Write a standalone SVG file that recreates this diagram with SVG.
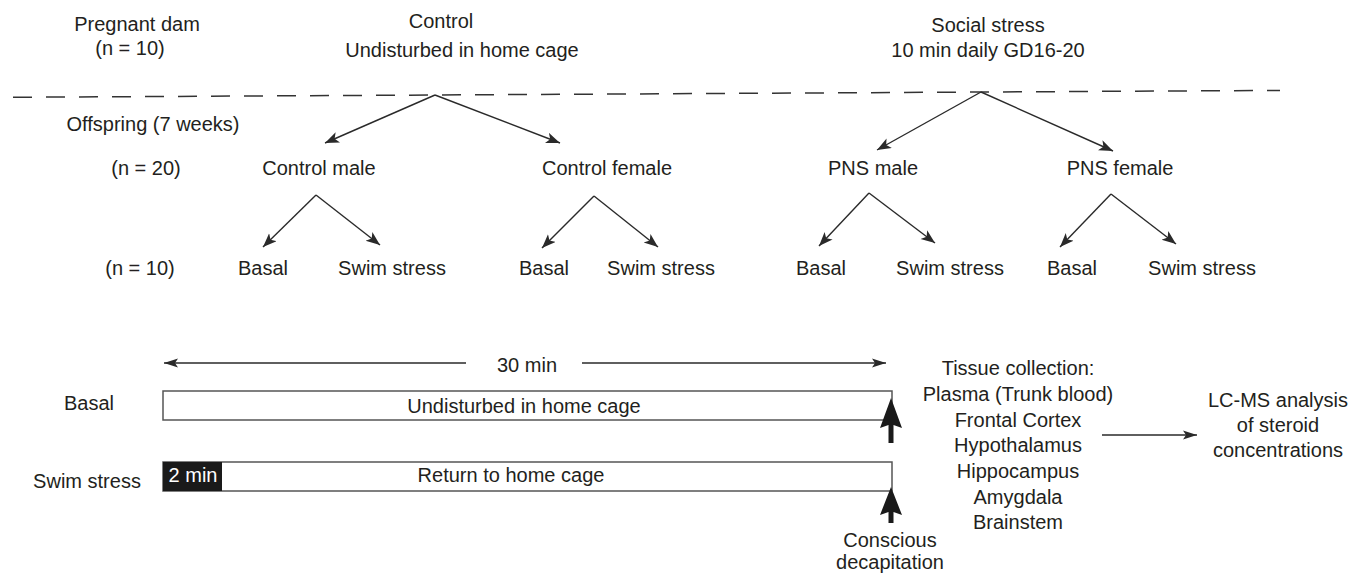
<svg xmlns="http://www.w3.org/2000/svg" width="1358" height="576" viewBox="0 0 1358 576">
<defs>
<style>
text{font-family:"Liberation Sans","Noto Sans",sans-serif;font-size:20px;fill:#231f20}
.c{text-anchor:middle}
.ln{stroke:#2a2a2a;stroke-width:1.4;fill:none}
.box{stroke:#555;stroke-width:1.5;fill:#fff}
</style>
<marker id="ah" markerUnits="userSpaceOnUse" markerWidth="16" markerHeight="12" refX="14" refY="5.5" orient="auto">
<path d="M0,0 L14,5.5 L0,11 L3.5,5.5 Z" fill="#2a2a2a"/>
</marker>
<marker id="ah2" markerUnits="userSpaceOnUse" markerWidth="16" markerHeight="12" refX="14" refY="5" orient="auto">
<path d="M0,0.5 L14,5 L0,9.5 L3,5 Z" fill="#2a2a2a"/>
</marker>
</defs>
<rect width="1358" height="576" fill="#fff"/>

<g id="header">
<text class="c" x="137" y="31">Pregnant dam</text>
<text class="c" x="130" y="55">(n = 10)</text>
<text class="c" x="153" y="131">Offspring (7 weeks)</text>
<text class="c" x="146" y="175">(n = 20)</text>
<text class="c" x="140" y="275">(n = 10)</text>
</g>

<g id="control">
<text class="c" x="441" y="28">Control</text>
<text class="c" x="462" y="57">Undisturbed in home cage</text>
</g>
<g id="social-stress">
<text class="c" x="988" y="32">Social stress</text>
<text class="c" x="988" y="57">10 min daily GD16-20</text>
</g>

<g id="control-male"><text class="c" x="319" y="175">Control male</text></g>
<g id="control-female"><text class="c" x="607" y="175">Control female</text></g>
<g id="pns-male"><text class="c" x="873" y="175">PNS male</text></g>
<g id="pns-female"><text class="c" x="1120" y="175">PNS female</text></g>

<g id="leaves">
<text class="c" x="263" y="275">Basal</text>
<text class="c" x="392" y="275">Swim stress</text>
<text class="c" x="544" y="275">Basal</text>
<text class="c" x="661" y="275">Swim stress</text>
<text class="c" x="821" y="275">Basal</text>
<text class="c" x="950" y="275">Swim stress</text>
<text class="c" x="1072" y="275">Basal</text>
<text class="c" x="1202" y="275">Swim stress</text>
</g>

<g id="connectors">
<line x1="13" y1="97.3" x2="1280" y2="90.4" stroke="#333" stroke-width="1.5" stroke-dasharray="19,14"/>
<path class="ln" d="M435,95 L325,143" marker-end="url(#ah)"/>
<path class="ln" d="M435,95 L560,143" marker-end="url(#ah)"/>
<path class="ln" d="M981,92 L877,150" marker-end="url(#ah)"/>
<path class="ln" d="M981,92 L1113,151" marker-end="url(#ah)"/>
<path class="ln" d="M316,195 L263,247" marker-end="url(#ah)"/>
<path class="ln" d="M316,195 L380,245" marker-end="url(#ah)"/>
<path class="ln" d="M594,196 L542,248" marker-end="url(#ah)"/>
<path class="ln" d="M594,196 L658,247" marker-end="url(#ah)"/>
<path class="ln" d="M869,193 L819,246" marker-end="url(#ah)"/>
<path class="ln" d="M869,193 L935,243" marker-end="url(#ah)"/>
<path class="ln" d="M1111,194 L1060,247" marker-end="url(#ah)"/>
<path class="ln" d="M1111,194 L1176,244" marker-end="url(#ah)"/>
<path class="ln" d="M466,363 L164,363" marker-end="url(#ah2)"/>
<path class="ln" d="M582,363 L886,363" marker-end="url(#ah2)"/>
<path class="ln" d="M1102,435 L1197,435" marker-end="url(#ah2)"/>
</g>

<g id="timeline">
<text class="c" x="527" y="372">30 min</text>
<text class="c" x="89" y="410">Basal</text>
<rect class="box" x="163" y="391" width="729" height="29"/>
<text class="c" x="524" y="413">Undisturbed in home cage</text>
<text class="c" x="87" y="488">Swim stress</text>
<rect class="box" x="163" y="462" width="729" height="29"/>
<rect x="163" y="462" width="59" height="29" fill="#1a1a1a"/>
<text class="c" x="193" y="482" style="fill:#fff">2 min</text>
<text class="c" x="511" y="482">Return to home cage</text>
</g>

<g id="decapitation">
<path d="M891,398 L902,428 L893.5,425 L893.5,443 L888.5,443 L888.5,425 L880,428 Z" fill="#1a1a1a"/>
<path d="M891,487 L902,515 L893.5,512 L893.5,523 L888.5,523 L888.5,512 L880,515 Z" fill="#1a1a1a"/>
<text class="c" x="890" y="547">Conscious</text>
<text class="c" x="890" y="569">decapitation</text>
</g>

<g id="tissue">
<text class="c" x="1018" y="375">Tissue collection:</text>
<text class="c" x="1018" y="401">Plasma (Trunk blood)</text>
<text class="c" x="1018" y="427">Frontal Cortex</text>
<text class="c" x="1018" y="452">Hypothalamus</text>
<text class="c" x="1018" y="478">Hippocampus</text>
<text class="c" x="1018" y="504">Amygdala</text>
<text class="c" x="1018" y="529">Brainstem</text>
</g>

<g id="lcms">
<text class="c" x="1278" y="407">LC-MS analysis</text>
<text class="c" x="1278" y="432">of steroid</text>
<text class="c" x="1278" y="457">concentrations</text>
</g>
</svg>
